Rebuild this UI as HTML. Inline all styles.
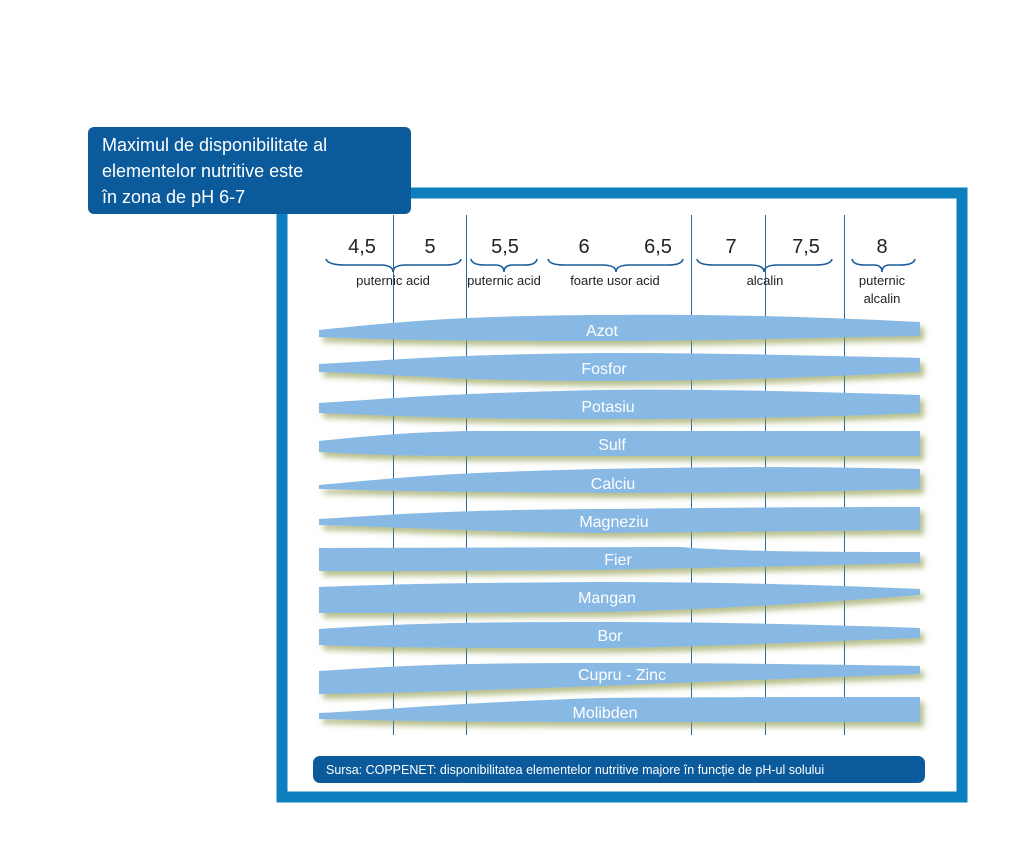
<!DOCTYPE html>
<html><head><meta charset="utf-8"><style>
html,body{margin:0;padding:0;background:#fff;}
body{width:1024px;height:862px;overflow:hidden;position:relative;font-family:"Liberation Sans",sans-serif;}
</style></head><body>
<svg width="1024" height="862" viewBox="0 0 1024 862" xmlns="http://www.w3.org/2000/svg" style="position:absolute;left:0;top:0">
<defs>
<filter id="sh" x="-5%" y="-50%" width="110%" height="200%">
<feGaussianBlur in="SourceAlpha" stdDeviation="3"/>
<feOffset dx="4" dy="5" result="b"/>
<feFlood flood-color="#8a9642" flood-opacity="0.6"/>
<feComposite in2="b" operator="in"/>
<feMerge><feMergeNode/><feMergeNode in="SourceGraphic"/></feMerge>
</filter>
</defs>
<rect x="282" y="193" width="680" height="604" fill="#fff" stroke="#0d7fbf" stroke-width="11"/>
<g stroke="#2a6aa0" stroke-width="1">
<line x1="393.5" y1="215" x2="393.5" y2="735"/>
<line x1="466.5" y1="215" x2="466.5" y2="735"/>
<line x1="691.5" y1="215" x2="691.5" y2="735"/>
<line x1="765.5" y1="215" x2="765.5" y2="735"/>
<line x1="844.5" y1="215" x2="844.5" y2="735"/>
</g>
<rect x="88" y="127" width="323" height="87" rx="6" fill="#0a5a9c"/>
<g fill="#fff" font-size="18">
<text x="102" y="151">Maximul de disponibilitate al</text>
<text x="102" y="177">elementelor nutritive este</text>
<text x="102" y="203">în zona de pH 6-7</text>
</g>
<g font-size="20" fill="#222" text-anchor="middle">
<text x="362" y="253">4,5</text><text x="430" y="253">5</text><text x="505" y="253">5,5</text>
<text x="584" y="253">6</text><text x="658" y="253">6,5</text><text x="731" y="253">7</text>
<text x="806" y="253">7,5</text><text x="882" y="253">8</text>
</g>
<g fill="none" stroke="#1a5d9a" stroke-width="1.6">
<path d="M326,259 Q328,265 345,265 L380,265 Q393,265 393,272 Q393,265 406,265 L445,265 Q460,265 461,259"/>
<path d="M471,259 Q472,265 485,265 L495,265 Q504,265 504,272 Q504,265 513,265 L525,265 Q536,265 537,259"/>
<path d="M548,259 Q549,265 565,265 L602,265 Q616,265 616,272 Q616,265 630,265 L668,265 Q682,265 683,259"/>
<path d="M697,259 Q698,265 714,265 L750,265 Q764,265 764,272 Q764,265 778,265 L815,265 Q831,265 832,259"/>
<path d="M852,259 Q853,265 865,265 L874,265 Q882,265 882,272 Q882,265 890,265 L900,265 Q914,265 915,259"/>
</g>
<g font-size="13" fill="#222" text-anchor="middle">
<text x="393" y="285">puternic acid</text><text x="504" y="285">puternic acid</text>
<text x="615" y="285">foarte usor acid</text><text x="765" y="285">alcalin</text>
<text x="882" y="285">puternic</text><text x="882" y="303">alcalin</text>
</g>
<g fill="#87b9e4" filter="url(#sh)">
<path d="M319,330 C400,322 450,316 600,315 C700,314 800,316 920,322 L920,336 C800,338 700,341 600,341 C450,341 400,340 319,337Z"/>
<path d="M319,364 C400,360 430,355 600,353 C700,353 800,355 920,358 L920,372 C800,378 700,381 600,381 C450,381 400,374 319,372Z"/>
<path d="M319,403 C400,398 430,394 600,390 C700,389 800,391 920,395 L920,413 C800,418 700,419 600,419 C450,419 400,416 319,413Z"/>
<path d="M319,441 C360,437 393,433 466,431 L920,431 L920,456 L466,456 C393,456 360,454 319,452Z"/>
<path d="M319,485 C400,478 430,473 600,469 C700,467 800,466 920,469 L920,489 C800,492 700,493 600,493 C450,492 400,491 319,489Z"/>
<path d="M319,519 C400,514 450,510 600,509 C700,508 800,507 920,507 L920,530 C800,531 700,532 600,533 C450,531 400,527 319,525Z"/>
<path d="M319,548 L680,547 C720,550 760,552 920,552 L920,563 C800,566 700,568 600,570 C450,571 400,571 319,571Z"/>
<path d="M319,587 C400,584 450,583 600,582 C700,582 800,584 920,589 L920,595 C800,604 700,610 600,612 C450,613 400,613 319,613Z"/>
<path d="M319,629 C400,624 450,622 600,622 C700,622 800,624 920,628 L920,638 C800,642 700,647 600,648 C450,648 400,648 319,645Z"/>
<path d="M319,671 C400,666 440,663 600,663 C700,663 800,664 920,666 L920,674 C800,678 700,682 600,686 C450,691 400,693 319,694Z"/>
<path d="M319,713 C400,709 450,703 600,698 C700,697 800,697 920,697 L920,722 C800,722 700,722 600,722 C450,722 400,721 319,719Z"/>
</g>
<g font-size="16" fill="#fff" text-anchor="middle">
<text x="602" y="336">Azot</text><text x="604" y="374">Fosfor</text><text x="608" y="412">Potasiu</text>
<text x="612" y="450">Sulf</text><text x="613" y="489">Calciu</text><text x="614" y="527">Magneziu</text>
<text x="618" y="565">Fier</text><text x="607" y="603">Mangan</text><text x="610" y="641">Bor</text>
<text x="622" y="680">Cupru - Zinc</text><text x="605" y="718">Molibden</text>
</g>
<rect x="313" y="756" width="612" height="27" rx="7" fill="#0a5a9c"/>
<text x="326" y="774" font-size="12.5" fill="#fff">Sursa: COPPENET: disponibilitatea elementelor nutritive majore în funcție de pH-ul solului</text>
</svg>
</body></html>
